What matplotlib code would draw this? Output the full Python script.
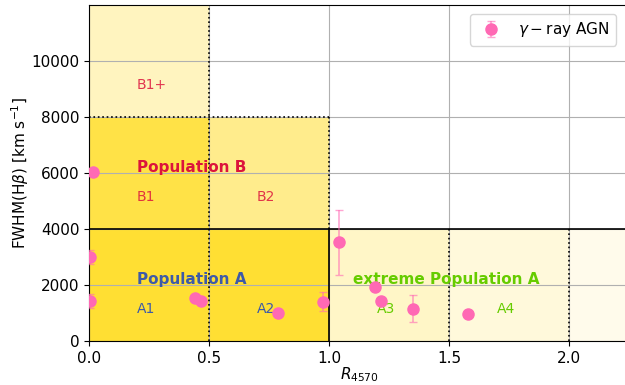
import matplotlib.pyplot as plt

# gamma-ray AGN positions in the optical plane
r4570 = [0.015, 0.004, 0.004, 0.442, 0.467, 0.789, 0.974, 1.043, 1.192, 1.215, 1.349, 1.580]
fwhm = [6030, 3010, 1420, 1530, 1420, 990, 1410, 3520, 1920, 1440, 1160, 960]
fwhm_err = [0, 250, 250, 0, 0, 0, 340, 1150, 0, 0, 480, 0]

# spectral type bins: (x0, x1, y0, y1, alpha)
bins = [
    (0.0, 0.5, 0, 4000, 0.80),
    (0.5, 1.0, 0, 4000, 0.80),
    (0.0, 0.5, 4000, 8000, 0.72),
    (0.5, 1.0, 4000, 8000, 0.45),
    (0.0, 0.5, 8000, 12000, 0.25),
    (1.0, 1.5, 0, 4000, 0.22),
    (1.5, 2.0, 0, 4000, 0.14),
    (2.0, 2.3, 0, 4000, 0.08),
]

fig = plt.figure(figsize=(6.25, 3.85), dpi=100)
ax = fig.add_axes([0.1424, 0.1143, 0.864, 0.8727])

for x0, x1, y0, y1, a in bins:
    ax.fill_between([x0, x1], y0, y1, color='gold', alpha=a, lw=0)

# bin boundaries
ax.plot([0, 2.3], [4000, 4000], color='black', lw=1.2)
ax.plot([1, 1], [0, 4000], color='black', lw=1.2)
ax.plot([0.5, 0.5], [0, 12000], color='black', ls=':', lw=1.2)
ax.plot([0, 1], [8000, 8000], color='black', ls=':', lw=1.2)
ax.plot([1, 1], [4000, 8000], color='black', ls=':', lw=1.2)
ax.plot([1.5, 1.5], [0, 4000], color='black', ls=':', lw=1.2)
ax.plot([2, 2], [0, 4000], color='black', ls=':', lw=1.2)

ax.errorbar(r4570, fwhm, yerr=fwhm_err, fmt='o', color='hotpink', ms=8,
            ecolor=(1.0, 0.41, 0.71, 0.6), elinewidth=1.2, capsize=3, zorder=5,
            label=r'$\gamma-$ray AGN')

red = '#dc143c'
blue = '#3d5aa8'
green = '#66cc00'
ax.text(0.2, 9150, 'B1+', color=red, fontsize=10, va='center', alpha=0.85)
ax.text(0.2, 6200, 'Population B', color=red, fontsize=11, fontweight='bold', va='center')
ax.text(0.2, 5150, 'B1', color=red, fontsize=10, va='center', alpha=0.85)
ax.text(0.7, 5150, 'B2', color=red, fontsize=10, va='center', alpha=0.85)
ax.text(0.2, 2210, 'Population A', color=blue, fontsize=11, fontweight='bold', va='center')
ax.text(0.2, 1140, 'A1', color=blue, fontsize=10, va='center')
ax.text(0.7, 1140, 'A2', color=blue, fontsize=10, va='center')
ax.text(1.1, 2200, 'extreme Population A', color=green, fontsize=11, fontweight='bold', va='center')
ax.text(1.2, 1140, 'A3', color=green, fontsize=10, va='center')
ax.text(1.7, 1140, 'A4', color=green, fontsize=10, va='center')

ax.set_xlim(0, 2.25)
ax.set_ylim(0, 12000)
ax.set_xticks([0.0, 0.5, 1.0, 1.5, 2.0])
ax.set_yticks([0, 2000, 4000, 6000, 8000, 10000])
ax.grid(True, color='#b0b0b0', lw=0.8)
ax.tick_params(labelsize=11)
ax.set_xlabel(r'$R_{4570}$', fontsize=11, labelpad=0)
ax.set_ylabel(r'FWHM(H$\beta$) [km s$^{-1}$]', fontsize=11, labelpad=0)
ax.legend(loc='upper right', fontsize=11, bbox_to_anchor=(0.99, 0.995))

fig.savefig('out.png', dpi=100)
